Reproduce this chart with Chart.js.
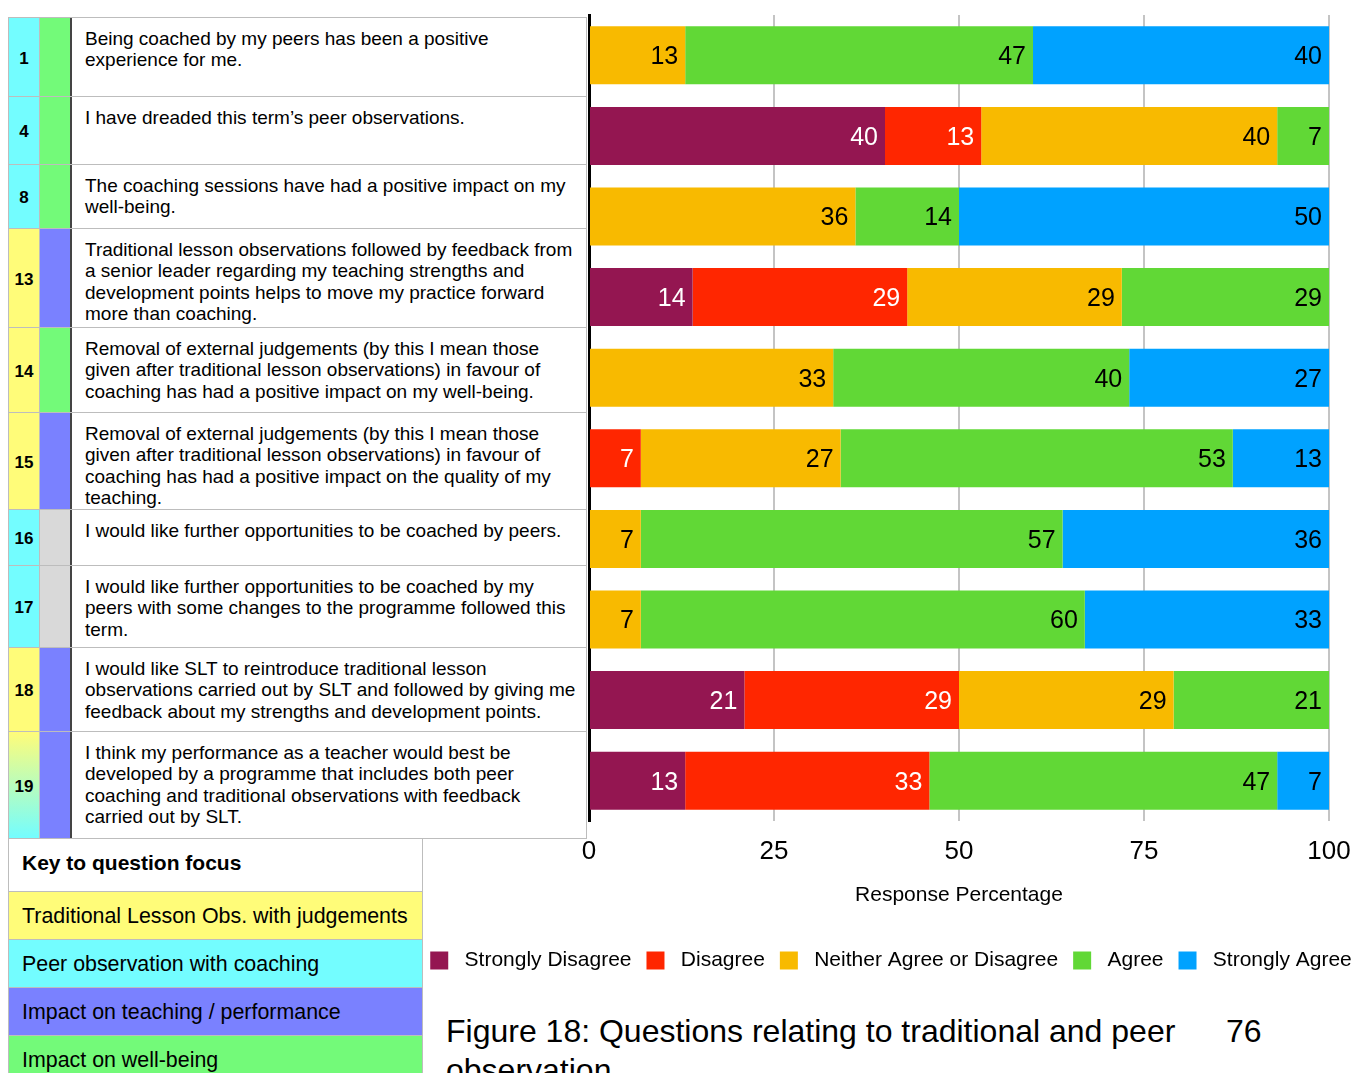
<!DOCTYPE html>
<html>
<head>
<meta charset="utf-8">
<script src="https://cdn.jsdelivr.net/npm/chart.js@4.4.1/dist/chart.umd.min.js"></script>
<style>
  html, body { margin:0; padding:0; background:#fff; overflow:hidden; width:1369px; height:1073px; }
  body { font-family: "Liberation Sans", Arial, Helvetica, sans-serif; color:#000; position:relative; }
  #tbl { position:absolute; left:8px; top:17px; width:579px; border-top:1px solid #bdbdbd; border-left:1px solid #bdbdbd; border-right:1px solid #bdbdbd; box-sizing:border-box; }
  .row { position:absolute; left:0; width:578px; display:flex; border-bottom:1px solid #bdbdbd; box-sizing:border-box; }
  .c1 { width:31px; flex:none; display:flex; align-items:center; justify-content:center; font-weight:bold; font-size:17px; padding-top:3px; box-sizing:border-box; border-right:1px solid #bdbdbd; }
  .c2 { width:32px; flex:none; border-right:2px solid #444; box-sizing:border-box; }
  .c3 { flex:1; padding:10px 0 0 13px; font-size:19px; line-height:21.3px; white-space:nowrap; box-sizing:border-box; }
  #key { position:absolute; left:8px; top:838px; width:415px; border:1px solid #bdbdbd; border-bottom:none; box-sizing:border-box; }
  .krow { height:48px; border-top:1px solid #bdbdbd; box-sizing:border-box; font-size:21.4px; padding:12px 0 0 13px; }
  .krow.head { height:52px; border-top:none; font-weight:bold; font-size:21px; padding-top:12px; }
  #chartWrap { position:absolute; left:413px; top:0; width:956px; height:981px; }
  #caption { position:absolute; left:446px; top:1012px; width:790px; font-size:32px; line-height:39px; }
  #pagenum { position:absolute; left:1226px; top:1012px; font-size:32px; line-height:39px; }
</style>
</head>
<body>
<div id="tbl"></div>
<div id="key"></div>
<div id="chartWrap"><canvas id="c" width="956" height="981"></canvas></div>
<div id="caption">Figure 18: Questions relating to traditional and peer observation</div>
<div id="pagenum">76</div>
<script>
// ---- Data ----
const questionNumbers = ['1', '4', '8', '13', '14', '15', '16', '17', '18', '19'];
const questionTexts = [
  ['Being coached by my peers has been a positive', 'experience for me.'],
  ['I have dreaded this term\u2019s peer observations.'],
  ['The coaching sessions have had a positive impact on my', 'well-being.'],
  ['Traditional lesson observations followed by feedback from', 'a senior leader regarding my teaching strengths and', 'development points helps to move my practice forward', 'more than coaching.'],
  ['Removal of external judgements (by this I mean those', 'given after traditional lesson observations) in favour of', 'coaching has had a positive impact on my well-being.'],
  ['Removal of external judgements (by this I mean those', 'given after traditional lesson observations) in favour of', 'coaching has had a positive impact on the quality of my', 'teaching.'],
  ['I would like further opportunities to be coached by peers.'],
  ['I would like further opportunities to be coached by my', 'peers with some changes to the programme followed this', 'term.'],
  ['I would like SLT to reintroduce traditional lesson', 'observations carried out by SLT and followed by giving me', 'feedback about my strengths and development points.'],
  ['I think my performance as a teacher would best be', 'developed by a programme that includes both peer', 'coaching and traditional observations with feedback', 'carried out by SLT.']
];
const questionType = ['peer', 'peer', 'peer', 'trad', 'trad', 'trad', 'peer', 'peer', 'trad', 'both'];
const questionImpact = ['wellbeing', 'wellbeing', 'wellbeing', 'teaching', 'wellbeing', 'teaching', 'none', 'none', 'teaching', 'teaching'];
const keyLabels = ['Traditional Lesson Obs. with judgements', 'Peer observation with coaching', 'Impact on teaching / performance', 'Impact on well-being'];

const responseLabels = ['Strongly Disagree', 'Disagree', 'Neither Agree or Disagree', 'Agree', 'Strongly Agree'];
const stronglyDisagree = [0, 40, 0, 14, 0, 0, 0, 0, 21, 13];
const disagree         = [0, 13, 0, 29, 0, 7, 0, 0, 29, 33];
const neither          = [13, 40, 36, 29, 33, 27, 7, 7, 29, 0];
const agree            = [47, 7, 14, 29, 40, 53, 57, 60, 21, 47];
const stronglyAgree    = [40, 0, 50, 0, 27, 13, 36, 33, 0, 7];
const xTickValues = [0, 25, 50, 75, 100];

// ---- Styles ----
const C = { yellow:'#FFFC79', cyan:'#73FDFF', purple:'#7A81FF', green:'#73FA79', gray:'#D9D9D9' };
const typeColor = { peer:C.cyan, trad:C.yellow, both:'linear-gradient(' + C.yellow + ',' + C.cyan + ')' };
const impactColor = { wellbeing:C.green, teaching:C.purple, none:C.gray };
const rowHeights = [79, 68, 64, 99, 85, 97, 56, 82, 84, 107];
const seriesColors = ['#941651', '#FF2600', '#F8BA00', '#61D836', '#00A2FF'];
const labelColors = ['#fff', '#fff', '#000', '#000', '#000'];
const FONT = '"Liberation Sans", Arial, sans-serif';

// ---- Table ----
const tbl = document.getElementById('tbl');
let y = 0;
questionNumbers.forEach((q, i) => {
  const r = document.createElement('div');
  r.className = 'row';
  r.style.top = y + 'px';
  r.style.height = rowHeights[i] + 'px';
  const c1 = document.createElement('div'); c1.className = 'c1'; c1.textContent = q;
  c1.style.background = typeColor[questionType[i]];
  const c2 = document.createElement('div'); c2.className = 'c2';
  c2.style.background = impactColor[questionImpact[i]];
  const c3 = document.createElement('div'); c3.className = 'c3';
  questionTexts[i].forEach((line, k) => {
    if (k) c3.appendChild(document.createElement('br'));
    c3.appendChild(document.createTextNode(line));
  });
  r.appendChild(c1); r.appendChild(c2); r.appendChild(c3);
  tbl.appendChild(r);
  y += rowHeights[i];
});
tbl.style.height = y + 'px';

const key = document.getElementById('key');
const kh = document.createElement('div'); kh.className = 'krow head'; kh.textContent = 'Key to question focus'; key.appendChild(kh);
[C.yellow, C.cyan, C.purple, C.green].forEach((col, i) => {
  const d = document.createElement('div'); d.className = 'krow'; d.style.background = col; d.textContent = keyLabels[i];
  key.appendChild(d);
});

// ---- Chart ----
const seriesData = [stronglyDisagree, disagree, neither, agree, stronglyAgree];
const datasets = responseLabels.map((lab, i) => ({
  label: lab,
  data: seriesData[i],
  backgroundColor: seriesColors[i],
  borderWidth: 0,
  categoryPercentage: 0.9,
  barPercentage: 0.8
}));

const valueLabels = {
  id: 'valueLabels',
  afterDatasetsDraw(chart) {
    const ctx = chart.ctx;
    ctx.save();
    ctx.font = '25px ' + FONT;
    ctx.textAlign = 'right';
    ctx.textBaseline = 'middle';
    chart.data.datasets.forEach((ds, i) => {
      const meta = chart.getDatasetMeta(i);
      meta.data.forEach((bar, j) => {
        const v = ds.data[j];
        if (!v) return;
        ctx.fillStyle = labelColors[i];
        const x = Math.min(bar.x, chart.chartArea.right) - 7;
        ctx.fillText(String(v), x, bar.y + 2);
      });
    });
    ctx.restore();
  }
};

new Chart(document.getElementById('c'), {
  type: 'bar',
  data: { labels: questionNumbers, datasets },
  plugins: [valueLabels],
  options: {
    indexAxis: 'y',
    responsive: false,
    maintainAspectRatio: false,
    animation: false,
    events: [],
    layout: { padding: { top: 15, left: 0, right: 0, bottom: 0 } },
    scales: {
      x: {
        stacked: true,
        min: 0, max: 100,
        afterBuildTicks(scale) { scale.ticks = xTickValues.map(v => ({ value: v })); },
        afterFit(scale) { scale.paddingRight = 40; scale.height = 114; },
        ticks: { color: '#000', font: { size: 26, family: FONT }, padding: 15 },
        grid: {
          color: c => (c.tick && c.tick.value === 0) ? 'rgba(0,0,0,0)' : '#C4C4C4',
          lineWidth: 2,
          drawTicks: false
        },
        border: { display: false },
        title: {
          display: true,
          text: 'Response Percentage',
          color: '#000',
          font: { size: 21, family: FONT },
          padding: { top: 10, bottom: 27 }
        }
      },
      y: {
        stacked: true,
        afterFit(scale) { scale.width = 176; },
        ticks: { display: false },
        grid: { display: false, drawTicks: false },
        border: { display: true, color: '#000', width: 3 }
      }
    },
    plugins: {
      legend: {
        position: 'bottom',
        labels: {
          boxWidth: 18,
          boxHeight: 18,
          padding: 15,
          color: '#000',
          font: { size: 21, family: FONT },
          generateLabels(chart) {
            return chart.data.datasets.map((ds, i) => ({
              text: ' ' + ds.label,
              fillStyle: ds.backgroundColor,
              strokeStyle: ds.backgroundColor,
              lineWidth: 0,
              hidden: false,
              datasetIndex: i,
              fontColor: '#000'
            }));
          }
        }
      },
      tooltip: { enabled: false }
    }
  }
});
</script>
</body>
</html>
